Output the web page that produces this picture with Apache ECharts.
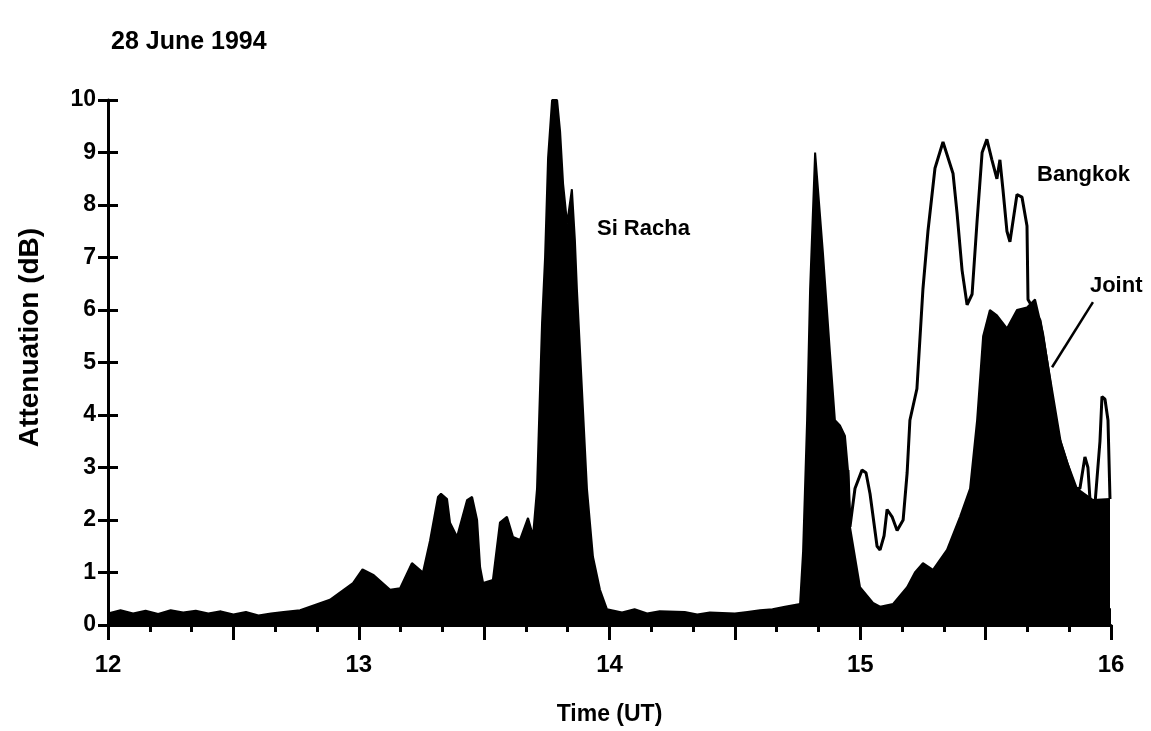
<!DOCTYPE html>
<html>
<head>
<meta charset="utf-8">
<title>28 June 1994</title>
<script src="https://cdn.jsdelivr.net/npm/echarts@6/dist/echarts.min.js"></script>
<style>
html, body { margin: 0; padding: 0; background: #fff; }
#chart1 { width: 1151px; height: 731px; }
</style>
</head>
<body>
<div id="chart1"></div>
<script>
// time (UT hours) / attenuation (dB)
var siRacha = [
    [12.00, 0.22], [12.05, 0.28], [12.10, 0.22], [12.15, 0.27], [12.20, 0.21], [12.25, 0.28],
    [12.30, 0.24], [12.35, 0.27], [12.40, 0.22], [12.45, 0.26], [12.50, 0.20], [12.55, 0.25],
    [12.60, 0.18], [12.65, 0.22], [12.70, 0.25], [12.766, 0.28], [12.885, 0.48], [12.977, 0.80],
    [13.015, 1.06], [13.06, 0.95], [13.125, 0.67], [13.165, 0.70], [13.212, 1.18], [13.256, 1.00],
    [13.284, 1.60], [13.316, 2.44], [13.328, 2.50], [13.352, 2.40], [13.364, 1.95], [13.392, 1.68],
    [13.432, 2.38], [13.452, 2.44], [13.472, 2.00], [13.484, 1.10], [13.496, 0.80], [13.535, 0.86],
    [13.563, 1.95], [13.591, 2.06], [13.615, 1.68], [13.643, 1.62], [13.675, 2.04], [13.695, 1.70],
    [13.711, 2.60], [13.723, 4.50], [13.731, 5.75], [13.743, 7.00], [13.755, 8.90], [13.771, 10.0],
    [13.791, 10.0], [13.803, 9.40], [13.815, 8.40], [13.831, 7.65], [13.850, 8.30], [13.862, 7.33],
    [13.870, 6.40], [13.890, 4.50], [13.910, 2.60], [13.934, 1.30], [13.962, 0.67], [13.990, 0.30],
    [14.05, 0.24], [14.10, 0.30], [14.15, 0.22], [14.20, 0.26], [14.30, 0.25], [14.35, 0.20],
    [14.40, 0.24], [14.50, 0.22], [14.55, 0.25], [14.60, 0.28], [14.65, 0.30], [14.70, 0.35],
    [14.76, 0.40], [14.772, 1.40], [14.788, 3.90], [14.800, 6.40], [14.820, 9.00], [14.851, 7.10],
    [14.879, 5.20], [14.899, 3.90], [14.919, 3.80], [14.939, 3.60], [14.951, 2.95], [14.959, 1.87],
    [14.999, 0.72], [15.051, 0.42], [15.079, 0.35], [15.20, 0.30], [15.50, 0.30], [16.00, 0.30]
];
var bangkok = [
    [14.951, 2.95], [14.959, 1.87], [14.979, 2.60], [15.007, 2.95], [15.023, 2.90], [15.039, 2.50],
    [15.067, 1.50], [15.079, 1.43], [15.095, 1.70], [15.107, 2.20], [15.127, 2.06], [15.147, 1.80],
    [15.171, 2.00], [15.187, 2.90], [15.198, 3.90], [15.226, 4.50], [15.250, 6.40], [15.270, 7.50],
    [15.298, 8.70], [15.330, 9.20], [15.350, 8.90], [15.370, 8.60], [15.386, 7.85], [15.406, 6.76],
    [15.426, 6.10], [15.446, 6.30], [15.466, 7.70], [15.486, 9.00], [15.505, 9.25], [15.525, 8.86],
    [15.545, 8.50], [15.557, 8.86], [15.569, 8.30], [15.585, 7.50], [15.597, 7.30], [15.625, 8.20],
    [15.645, 8.15], [15.665, 7.60], [15.669, 6.20], [15.717, 5.80], [15.797, 3.50], [15.856, 2.60],
    [15.876, 2.60], [15.896, 3.20], [15.908, 3.00], [15.916, 2.40], [15.936, 2.30], [15.956, 3.50],
    [15.964, 4.35], [15.976, 4.30], [15.988, 3.90], [15.996, 2.40]
];
var joint = [
    [15.079, 0.35], [15.131, 0.40], [15.187, 0.72], [15.218, 1.00], [15.250, 1.18], [15.290, 1.05],
    [15.346, 1.43], [15.398, 2.06], [15.438, 2.60], [15.466, 3.90], [15.490, 5.50], [15.517, 6.00],
    [15.545, 5.90], [15.585, 5.65], [15.625, 6.00], [15.665, 6.05], [15.697, 6.20], [15.729, 5.55],
    [15.757, 4.67], [15.785, 3.70], [15.825, 3.10], [15.864, 2.60], [15.928, 2.38], [15.996, 2.40]
];
var xTicks = [12, 13, 14, 15, 16];
// label anchors in data units: [time, dB]
var labelSiRacha = [13.95, 7.55];
var labelBangkok = [15.705, 8.57];
var labelJoint = [15.916, 6.45];
var jointLeader = [[15.928, 6.15], [15.765, 4.91]];

var ink = '#000';
var font = 'Liberation Sans, Arial, sans-serif';

var option = {
    animation: false,
    backgroundColor: '#fff',
    title: {
        text: '28 June 1994',
        left: 106,
        top: 25,
        textStyle: { color: ink, fontSize: 25, fontWeight: 'bold', fontFamily: font }
    },
    grid: { left: 108, right: 40, top: 100, bottom: 94 },
    xAxis: {
        type: 'value',
        min: 12,
        max: 16,
        interval: 0.5,
        name: 'Time (UT)',
        nameLocation: 'middle',
        nameGap: 78,
        nameTextStyle: { color: ink, fontSize: 23, fontWeight: 'bold', fontFamily: font },
        axisLine: { lineStyle: { color: ink, width: 3 } },
        axisTick: { length: 15, lineStyle: { color: ink, width: 3 } },
        minorTick: { show: true, splitNumber: 3, length: 7, lineStyle: { color: ink, width: 3 } },
        axisLabel: {
            color: ink, fontSize: 24, fontWeight: 'bold', fontFamily: font, margin: 28,
            formatter: function(v) { return xTicks.indexOf(v) >= 0 ? String(v) : ''; }
        },
        splitLine: { show: false }
    },
    yAxis: [{
        type: 'value',
        min: 0,
        max: 10,
        interval: 1,
        name: 'Attenuation (dB)',
        nameLocation: 'middle',
        nameGap: 64,
        nameTextStyle: { color: ink, fontSize: 28, fontWeight: 'bold', fontFamily: font, padding: [0, 0, 0, 50] },
        axisLine: { show: true, lineStyle: { color: ink, width: 3 } },
        axisTick: { show: true, length: 10, lineStyle: { color: ink, width: 3 } },
        axisLabel: { color: ink, fontSize: 23, fontWeight: 'bold', fontFamily: font, margin: 12 },
        splitLine: { show: false }
    }, {
        // second copy so the ticks cross the axis line
        type: 'value',
        position: 'left',
        min: 0,
        max: 10,
        interval: 1,
        axisLine: { show: false },
        axisTick: { show: true, inside: true, length: 10, lineStyle: { color: ink, width: 3 } },
        axisLabel: { show: false },
        splitLine: { show: false }
    }],
    series: [{
        name: 'Si Racha',
        type: 'line',
        symbol: 'none',
        lineStyle: { color: ink, width: 2 },
        areaStyle: { color: ink, opacity: 1 },
        data: siRacha
    }, {
        name: 'Joint',
        type: 'line',
        symbol: 'none',
        lineStyle: { color: ink, width: 2 },
        areaStyle: { color: ink, opacity: 1 },
        data: joint
    }, {
        name: 'Bangkok',
        type: 'line',
        symbol: 'none',
        lineStyle: { color: ink, width: 3 },
        data: bangkok
    }]
};

var chart1 = echarts.init(document.getElementById('chart1'));
chart1.setOption(option);

//标注文字
function px(p) { return chart1.convertToPixel({ gridIndex: 0 }, p); }
function note(text, p) {
    var q = px(p);
    return {
        type: 'text', x: q[0], y: q[1],
        style: { text: text, fill: ink, fontSize: 22, fontWeight: 'bold', fontFamily: font, verticalAlign: 'middle' }
    };
}
var a = px(jointLeader[0]), b = px(jointLeader[1]);
chart1.setOption({
    graphic: [
        note('Si Racha', labelSiRacha),
        note('Bangkok', labelBangkok),
        note('Joint', labelJoint),
        { type: 'line', shape: { x1: a[0], y1: a[1], x2: b[0], y2: b[1] }, style: { stroke: ink, lineWidth: 2.5 } }
    ]
});

window.onresize = function() {
    chart1.resize();
};
</script>
</body>
</html>
